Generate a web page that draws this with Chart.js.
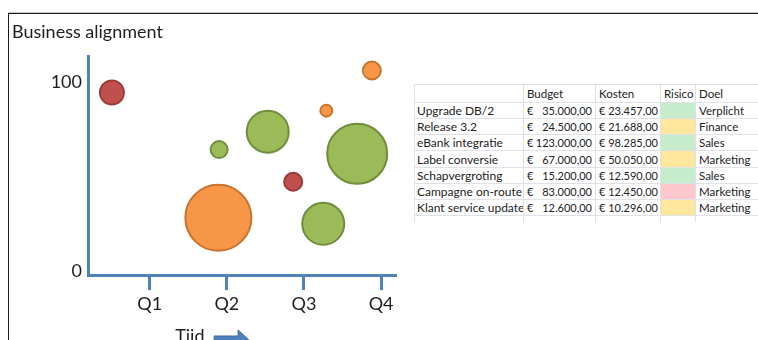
<!DOCTYPE html>
<html>
<head>
<meta charset="utf-8">
<script src="https://cdn.jsdelivr.net/npm/chart.js@4.4.1/dist/chart.umd.min.js"></script>
<style>
  html, body { margin: 0; padding: 0; background: #fff; overflow: hidden; }
  body { width: 758px; height: 340px; position: relative; font-family: Lato, "Open Sans", sans-serif; }
  #chartBox { position: absolute; left: 0; top: 0; width: 410px; height: 360px; }
  .frameTop { position: absolute; left: 8px; top: 12px; width: 750px; height: 0; border-top: 1px solid #c8c8c8; }
  .frameTop2 { position: absolute; left: 8px; top: 13px; width: 750px; height: 0; border-top: 1px solid #1a1a1a; }
  .frameLeft { position: absolute; left: 8px; top: 13px; width: 0; height: 330px; border-left: 1px solid #1a1a1a; }
  #tbl { position: absolute; left: 414px; top: 84px; width: 345px; border-collapse: collapse; font-size: 11.5px; color: #222; table-layout: fixed; }
  #tbl td { border: 1px solid #dfe1e6; padding: 0 3px; height: 15.25px; line-height: 15px; white-space: nowrap; overflow: hidden; }
  #tbl td.name { font-size: 12px; padding-left: 2px; padding-right: 0; }
  #tbl td.num { font-size: 11px; }
  #tbl tr.head td { height: 16.7px; }
  #tbl tr.tail td { height: 6px; border-bottom: none; }
  #tbl td.last { border-right: none; }
  .eur { display: flex; justify-content: space-between; }
</style>
</head>
<body>
<div id="chartBox"><canvas id="myChart"></canvas></div>
<div class="frameTop"></div>
<div class="frameTop2"></div>
<div class="frameLeft"></div>
<table id="tbl"></table>
<script>
// chart values
const quarterLabels = ['Q1', 'Q2', 'Q3', 'Q4']
const quarterValues = [1, 2, 3, 4]
const yTickValues = [0, 100]

const redX = [0.51, 2.86]
const redY = [94.7, 47.3]
const redR = [12, 9]

const orangeX = [3.88, 3.29, 1.89]
const orangeY = [106.4, 85.1, 28.2]
const orangeR = [9, 6, 33]

const greenX = [1.90, 2.53, 3.69, 3.25]
const greenY = [64.4, 73.9, 62.2, 25.0]
const greenR = [8.5, 21, 30, 21]

// table values
const projects = ['Upgrade DB/2', 'Release 3.2', 'eBank integratie', 'Label conversie', 'Schapvergroting', 'Campagne on-route', 'Klant service update']
const budgets = ['35.000,00', '24.500,00', '123.000,00', '67.000,00', '15.200,00', '83.000,00', '12.600,00']
const kosten = ['23.457,00', '21.688,00', '98.285,00', '50.050,00', '12.590,00', '12.450,00', '10.296,00']
const risico = ['laag', 'midden', 'laag', 'midden', 'laag', 'hoog', 'midden']
const doel = ['Verplicht', 'Finance', 'Sales', 'Marketing', 'Sales', 'Marketing', 'Marketing']
const headers = ['', 'Budget', 'Kosten', 'Risico', 'Doel']

const riskColors = { laag: '#c6eccb', midden: '#fee69c', hoog: '#fcc7cd' }
const colWidths = [109, 72, 65, 35, 64]

const toPoints = (xs, ys, rs) => xs.map((x, i) => ({ x: x, y: ys[i], r: rs[i] }))

// build table
const tbl = document.getElementById('tbl')
let html = '<colgroup>' + colWidths.map(w => `<col style="width:${w}px">`).join('') + '</colgroup>'
html += '<tr class="head">' + headers.map((h, i) => `<td${i === 4 ? ' class="last"' : ''}>${h}</td>`).join('') + '</tr>'
projects.forEach((p, i) => {
    html += '<tr>'
    html += `<td class="name">${p}</td>`
    html += `<td class="num"><div class="eur"><span>€</span><span>${budgets[i]}</span></div></td>`
    html += `<td class="num">€ ${kosten[i]}</td>`
    html += `<td style="background:${riskColors[risico[i]]}"></td>`
    html += `<td class="last">${doel[i]}</td>`
    html += '</tr>'
})
html += '<tr class="tail">' + headers.map((h, i) => `<td${i === 4 ? ' class="last"' : ''}></td>`).join('') + '</tr>'
tbl.innerHTML = html

const axisBlue = '#4f81bd'

const timeArrow = {
    id: 'timeArrow',
    afterDraw(chart) {
        const ctx = chart.ctx
        const xs = chart.scales.x
        const left = xs.getPixelForValue(1.33)
        const base = chart.chartArea.bottom
        ctx.save()
        ctx.fillStyle = '#1e1e1e'
        ctx.font = '18px Lato, "Open Sans", sans-serif'
        ctx.textBaseline = 'alphabetic'
        ctx.fillText('Tiid', left, base + 67)
        // block arrow
        const ax = left + 39
        const ay = base + 68
        ctx.fillStyle = axisBlue
        ctx.strokeStyle = '#3a679c'
        ctx.lineWidth = 1
        ctx.beginPath()
        ctx.moveTo(ax, ay - 7)
        ctx.lineTo(ax + 24, ay - 7)
        ctx.lineTo(ax + 24, ay - 13)
        ctx.lineTo(ax + 38, ay)
        ctx.lineTo(ax + 24, ay + 13)
        ctx.lineTo(ax + 24, ay + 7)
        ctx.lineTo(ax, ay + 7)
        ctx.closePath()
        ctx.fill()
        ctx.stroke()
        ctx.restore()
    }
}

const ctx = document.getElementById('myChart')
new Chart(ctx, {
    type: 'bubble',
    data: {
        datasets: [
            {
                label: 'Hoog',
                data: toPoints(redX, redY, redR),
                backgroundColor: '#c0504d',
                borderColor: '#9a3b38',
                borderWidth: 2
            },
            {
                label: 'Midden',
                data: toPoints(orangeX, orangeY, orangeR),
                backgroundColor: '#f79646',
                borderColor: '#c8732e',
                borderWidth: 2
            },
            {
                label: 'Laag',
                data: toPoints(greenX, greenY, greenR),
                backgroundColor: '#9bbb59',
                borderColor: '#6f8d3a',
                borderWidth: 2
            }
        ]
    },
    options: {
        responsive: true,
        maintainAspectRatio: false,
        animation: false,
        events: [],
        layout: { autoPadding: false, padding: { left: 12, right: 15, top: 14, bottom: 0 } },
        plugins: {
            legend: { display: false },
            tooltip: { enabled: false },
            title: {
                display: true,
                text: 'Business alignment',
                align: 'start',
                color: '#1e1e1e',
                font: { family: 'Lato, "Open Sans", sans-serif', size: 18, weight: 'normal' },
                padding: { top: 7, bottom: 14 }
            }
        },
        scales: {
            x: {
                type: 'linear',
                min: 0.2,
                max: 4.18,
                afterBuildTicks: (scale) => { scale.ticks = quarterValues.map(v => ({ value: v })) },
                afterFit: (scale) => {
                    scale.height = 85
                    scale.paddingLeft = 0
                    scale.paddingRight = 0
                },
                ticks: {
                    color: '#1e1e1e',
                    font: { family: 'Lato, "Open Sans", sans-serif', size: 18 },
                    padding: 3,
                    maxRotation: 0,
                    callback: (v) => quarterLabels[quarterValues.indexOf(v)]
                },
                grid: {
                    display: true,
                    drawOnChartArea: false,
                    drawTicks: true,
                    tickLength: 15,
                    color: axisBlue,
                    lineWidth: 3
                },
                border: { display: true, color: axisBlue, width: 3 }
            },
            y: {
                type: 'linear',
                min: -2.2,
                max: 113.8,
                afterBuildTicks: (scale) => { scale.ticks = yTickValues.map(v => ({ value: v })) },
                afterFit: (scale) => { scale.width = 76 },
                ticks: {
                    color: '#1e1e1e',
                    font: { family: 'Lato, "Open Sans", sans-serif', size: 18 },
                    padding: 6
                },
                grid: { display: false, drawTicks: false },
                border: { display: true, color: axisBlue, width: 3 }
            }
        }
    },
    plugins: [timeArrow]
})
</script>
</body>
</html>
